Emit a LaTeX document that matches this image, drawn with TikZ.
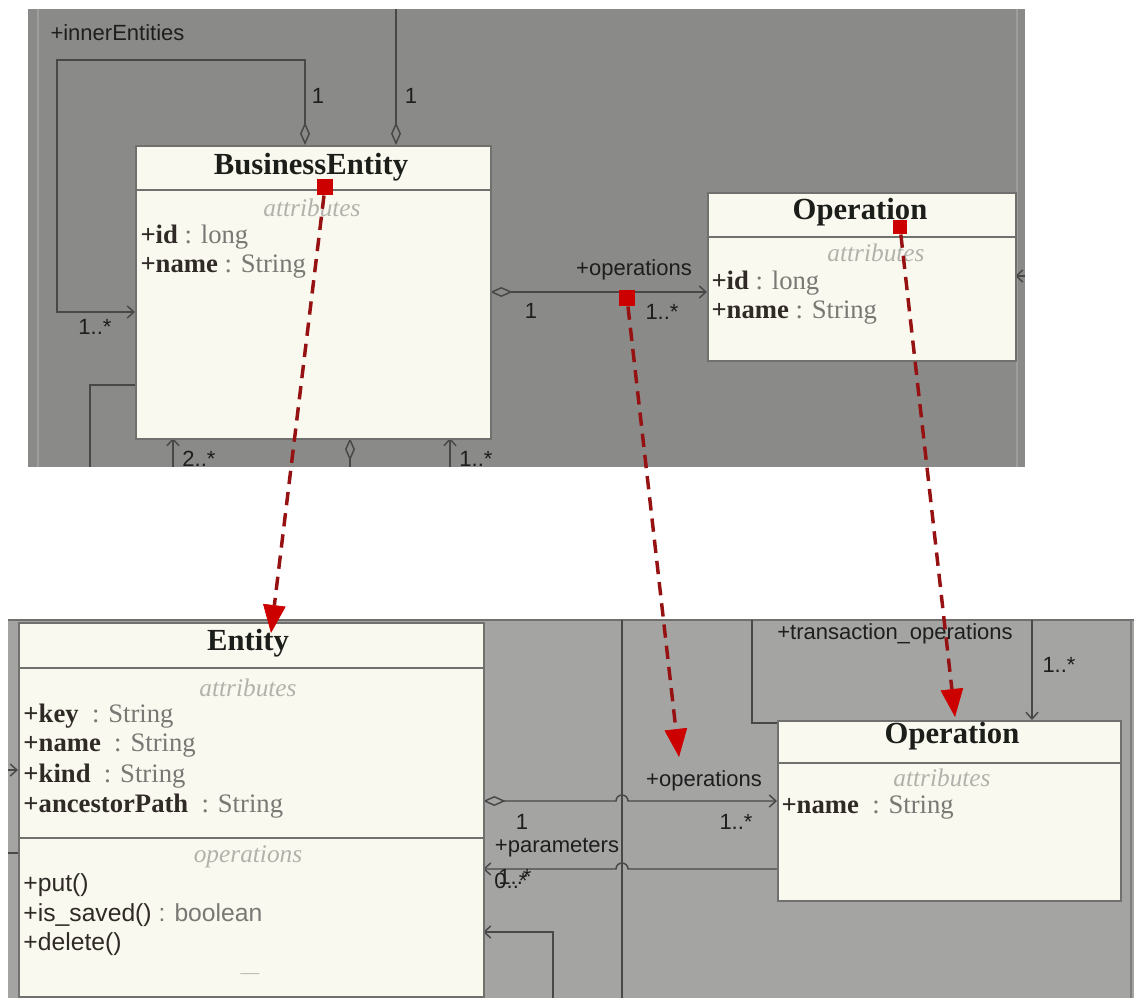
\documentclass[tikz,border=0pt]{standalone}
\usepackage{fontspec}
\setmainfont{Liberation Serif}
\setsansfont{Liberation Sans}
\usetikzlibrary{arrows.meta}

\definecolor{panelTop}{RGB}{138,138,136}
\definecolor{panelBot}{RGB}{164,164,163}
\definecolor{panelRim}{RGB}{158,158,156}
\definecolor{boxFill}{RGB}{249,249,240}
\definecolor{boxLine}{RGB}{112,112,110}
\definecolor{wire}{RGB}{72,72,72}
\definecolor{titleInk}{RGB}{28,30,26}
\definecolor{attrInk}{RGB}{48,42,38}
\definecolor{typeInk}{RGB}{120,120,116}
\definecolor{sectInk}{RGB}{178,178,172}
\definecolor{labelInk}{RGB}{30,30,30}
\definecolor{traceRed}{RGB}{150,18,18}
\definecolor{markRed}{RGB}{205,0,0}

\tikzset{every picture/.style={line width=0.75pt}}
\tikzset{
  classbox/.style={draw=boxLine, fill=boxFill, line width=1.5pt, inner sep=0pt, anchor=north west},
  divider/.style={draw=boxLine, line width=1.5pt},
  clsname/.style={font=\fontsize{23}{26}\selectfont\bfseries, text=titleInk, inner sep=0pt},
  sect/.style={font=\fontsize{19}{22}\selectfont\itshape, text=sectInk, inner sep=0pt},
  attr/.style={font=\fontsize{20}{24}\selectfont, text=attrInk, anchor=west, inner sep=0pt},
  oper/.style={font=\fontsize{18.5}{22}\selectfont\sffamily, text=attrInk, anchor=west, inner sep=0pt},
  role/.style={font=\fontsize{16.5}{19}\selectfont\sffamily, text=labelInk, inner sep=0pt},
  assoc/.style={draw=wire, line width=1.1pt},
  aggr/.style={{Diamond[open,length=17pt,width=7.5pt]}-},
  navi/.style={-{Straight Barb[length=5pt,width=9pt]}},
  aggrnavi/.style={{Diamond[open,length=17pt,width=7.5pt]}-{Straight Barb[length=5pt,width=9pt]}},
  marker/.style={fill=markRed, minimum size=12pt, inner sep=0pt},
  trace/.style={draw=traceRed, line width=2.6pt, dash pattern=on 10pt off 6pt,
    -{Triangle[length=21pt,width=17pt,line width=0.5pt,color=markRed,fill=markRed]}}
}

\begin{document}
\begin{tikzpicture}[x=0.75pt,y=0.75pt,yscale=-1,xscale=1]
\useasboundingbox (0,0) rectangle (1134,998);

%Shape: Rectangle (upper panel)
\fill[panelTop] (28,9) rectangle (1025,467);
\draw[panelRim, line width=1pt] (38,9) -- (38,467) (1017,9) -- (1017,467);
%Shape: Rectangle (lower panel)
\fill[panelBot] (8,620) rectangle (1134,998);
\draw[boxLine, line width=1pt] (8,620) -- (1134,620);
\draw[panelRim!80!black, line width=1pt] (1131,620) -- (1131,998);

%Straight Lines: upper panel associations
\coordinate (beTopL) at (305,145);
\coordinate (loopCorner) at (57,60);
\coordinate (beLeftU) at (135,312);
\draw[assoc, aggrnavi] (beTopL) |- (loopCorner) |- (beLeftU);
\coordinate (beTopR) at (396,145);
\coordinate (topEdgeA) at (396,9);
\draw[assoc, aggr] (beTopR) -- (topEdgeA);
\coordinate (beLeftD) at (135,385);
\coordinate (lowCornerA) at (90,467);
\draw[assoc] (beLeftD) -| (lowCornerA);
\coordinate (beBotA) at (173,438);
\coordinate (botEdgeA) at (173,467);
\draw[assoc, navi] (botEdgeA) -- (beBotA);
\coordinate (beBotB) at (350,438);
\coordinate (botEdgeB) at (350,467);
\draw[assoc, aggr] (beBotB) -- (botEdgeB);
\coordinate (beBotC) at (450,438);
\coordinate (botEdgeC) at (450,467);
\draw[assoc, navi] (botEdgeC) -- (beBotC);
\coordinate (beOpsA) at (490,292);
\coordinate (opTopIn) at (707,292);
\draw[assoc, aggrnavi] (beOpsA) -- (opTopIn);
\coordinate (rightEdgeA) at (1025,276);
\coordinate (opTopOut) at (1015,276);
\draw[assoc, navi] (rightEdgeA) -- (opTopOut);

%Shape: BusinessEntity class
\node[classbox, minimum width=266.25pt, minimum height=219.75pt] (busEnt) at (135,145) {};
\draw[divider] (135,190) -- (490,190);
\node[clsname] (busEntName) at (311,167) {BusinessEntity};
\node[sect] (busEntSect) at (312,208) {attributes};
\node[attr] (busEntId) at (140,237) {\textbf{+id}\textcolor{typeInk}{\ : long}};
\node[attr] (busEntNm) at (140,267) {\textbf{+name}\textcolor{typeInk}{\ : String}};

%Shape: Operation class (upper)
\node[classbox, minimum width=231pt, minimum height=126pt] (opTop) at (707,192) {};
\draw[divider] (707,237) -- (1015,237);
\node[clsname] (opTopName) at (860,212) {Operation};
\node[sect] (opTopSect) at (876,253) {attributes};
\node[attr] (opTopId) at (711,283) {\textbf{+id}\textcolor{typeInk}{\ : long}};
\node[attr] (opTopNm) at (711,313) {\textbf{+name}\textcolor{typeInk}{\ : String}};

% Text Node: upper role labels
\node[role, anchor=west] (lbInner) at (50,33) {+innerEntities};
\node[role] (lbOneA) at (318,96) {1};
\node[role] (lbOneB) at (411,96) {1};
\node[role] (lbManyA) at (95,327) {1..*};
\node[role] (lbManyB) at (199,459) {2..*};
\node[role] (lbManyC) at (476,459) {1..*};
\node[role] (lbOpsTop) at (634,270) {+operations};
\node[role] (lbOneC) at (531,311) {1};
\node[role] (lbManyD) at (662,312) {1..*};

%Straight Lines: lower panel associations
\coordinate (busTop) at (622,620);
\coordinate (busBot) at (622,998);
\draw[assoc] (busTop) -- (busBot);
\coordinate (entOpsA) at (483,801);
\coordinate (opBotIn) at (777,801);
\draw[assoc, aggrnavi] (entOpsA) -- (616,801) arc[start angle=180, end angle=360, radius=6] -- (opBotIn);
\coordinate (opBotOut) at (777,869);
\coordinate (entParIn) at (483,869);
\draw[assoc, navi] (opBotOut) -- (628,869) arc[start angle=0, end angle=-180, radius=6] -- (entParIn);
\coordinate (lowCornerB) at (553,998);
\coordinate (entLowIn) at (483,932);
\draw[assoc, navi] (lowCornerB) |- (entLowIn);
\coordinate (opBotTL) at (777,723);
\coordinate (loopTopA) at (752,620);
\draw[assoc] (opBotTL) -| (loopTopA);
\coordinate (loopTopB) at (1032,620);
\coordinate (opBotTop) at (1032,720);
\draw[assoc, navi] (loopTopB) -- (opBotTop);
\coordinate (leftEdgeA) at (8,770);
\coordinate (entLeftIn) at (18,770);
\draw[assoc, navi] (leftEdgeA) -- (entLeftIn);
\coordinate (leftEdgeB) at (8,853);
\coordinate (entLeftOut) at (18,853);
\draw[assoc] (leftEdgeB) -- (entLeftOut);

%Shape: Entity class
\node[classbox, minimum width=348.75pt, minimum height=280.5pt] (ent) at (18,622) {};
\draw[divider] (18,668) -- (483,668);
\draw[divider] (18,838) -- (483,838);
\node[clsname] (entName) at (248,643) {Entity};
\node[sect] (entSect) at (248,688) {attributes};
\node[attr] (entKey) at (23,716) {\textbf{+key}\textcolor{typeInk}{\ \ : String}};
\node[attr] (entNm) at (23,746) {\textbf{+name}\textcolor{typeInk}{\ \ : String}};
\node[attr] (entKind) at (23,776) {\textbf{+kind}\textcolor{typeInk}{\ \ : String}};
\node[attr] (entPath) at (23,806) {\textbf{+ancestorPath}\textcolor{typeInk}{\ \ : String}};
\node[sect] (entOpsSect) at (248,857) {operations};
\node[oper] (entPut) at (23,885) {+put()};
\node[oper] (entSaved) at (23,915) {+is\_saved()\textcolor{typeInk}{\ : boolean}};
\node[oper] (entDel) at (23,944) {+delete()};
\node[sect, font=\fontsize{14}{16}\selectfont] (entMore) at (250,976) {—};

%Shape: Operation class (lower)
\node[classbox, minimum width=257.25pt, minimum height=135pt] (opBot) at (777,720) {};
\draw[divider] (777,763) -- (1120,763);
\node[clsname] (opBotName) at (952,736) {Operation};
\node[sect] (opBotSect) at (942,778) {attributes};
\node[attr] (opBotNm) at (781,808) {\textbf{+name}\textcolor{typeInk}{\ \ : String}};

% Text Node: lower role labels
\node[role] (lbTrans) at (895,634) {+transaction\_operations};
\node[role] (lbManyE) at (1059,665) {1..*};
\node[role] (lbOpsBot) at (704,781) {+operations};
\node[role] (lbOneD) at (522,822) {1};
\node[role] (lbManyF) at (736,822) {1..*};
\node[role] (lbParams) at (557,848) {+parameters};
\node[role] (lbZero) at (511,881) {0..*};
\node[role] (lbManyG) at (515,877) {1..*};

%Dashed mapping arrows
\node[marker] (mkBus) at (325,187) {};
\node[marker] (mkAssoc) at (627,298) {};
\node[marker, minimum size=10.5pt] (mkOp) at (900,227) {};
\coordinate (tipEnt) at (271,633);
\coordinate (tipAssoc) at (679,757);
\coordinate (tipOp) at (955,717);
\draw[trace] (mkBus) -- (tipEnt);
\draw[trace] (mkAssoc) -- (tipAssoc);
\draw[trace] (mkOp) -- (tipOp);

\end{tikzpicture}
\end{document}
